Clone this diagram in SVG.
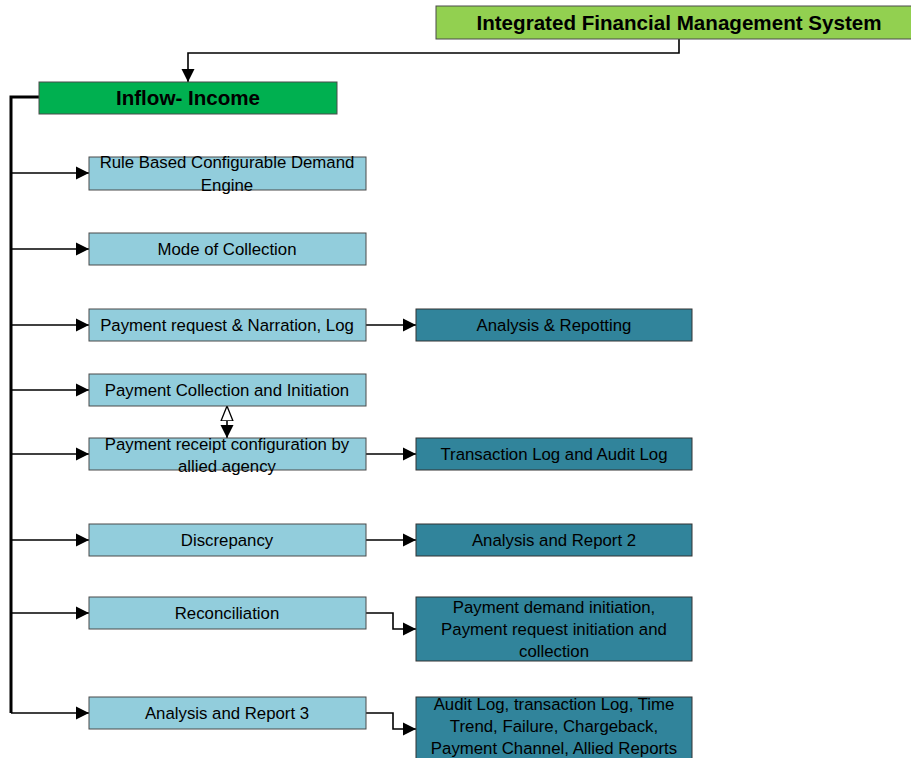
<svg xmlns="http://www.w3.org/2000/svg" width="911" height="758" viewBox="0 0 911 758">
<style>
.top{fill:#92D050;stroke:#4a4a4a;stroke-width:1}
.inflow{fill:#00B050;stroke:#4a4a4a;stroke-width:1}
.lt{fill:#92CDDC;stroke:#4a4a4a;stroke-width:1}
.dk{fill:#31849B;stroke:#333;stroke-width:1}
text{font-family:"Liberation Sans",Arial,sans-serif;font-size:16.8px;fill:#000;text-anchor:middle}
.b{font-weight:bold;font-size:20.6px}
.c{fill:none;stroke:#000;stroke-width:1.6}
.bus{fill:none;stroke:#000;stroke-width:3}
</style>
<defs>
<marker id="ah" markerWidth="14" markerHeight="14" refX="13" refY="7" orient="auto" markerUnits="userSpaceOnUse">
<path d="M0,0.5 L13,7 L0,13.5 Z" fill="#000"/>
</marker>
<marker id="ao" markerWidth="16" markerHeight="14" refX="15" refY="7" orient="auto" markerUnits="userSpaceOnUse">
<path d="M0,1 L15,7 L0,13 Z" fill="#fff" stroke="#000" stroke-width="1.3"/>
</marker>
</defs>
<g id="connectors">
<path class="c" d="M679,39 V53 H188 V82" marker-end="url(#ah)"/>
<path class="bus" d="M39,97 H11 V713"/>
<path class="c" d="M11,173 H89" marker-end="url(#ah)"/>
<path class="c" d="M11,249 H89" marker-end="url(#ah)"/>
<path class="c" d="M11,325 H89" marker-end="url(#ah)"/>
<path class="c" d="M11,390 H89" marker-end="url(#ah)"/>
<path class="c" d="M11,454 H89" marker-end="url(#ah)"/>
<path class="c" d="M11,540 H89" marker-end="url(#ah)"/>
<path class="c" d="M11,613 H89" marker-end="url(#ah)"/>
<path class="c" d="M11,713 H89" marker-end="url(#ah)"/>
<path class="c" d="M366,325 H416" marker-end="url(#ah)"/>
<path class="c" d="M366,454 H416" marker-end="url(#ah)"/>
<path class="c" d="M366,540 H416" marker-end="url(#ah)"/>
<path class="c" d="M366,613 H393 V629 H416" marker-end="url(#ah)"/>
<path class="c" d="M366,713 H393 V729 H416" marker-end="url(#ah)"/>
<path class="c" d="M227,422 V406" marker-end="url(#ao)"/>
<path class="c" d="M227,422 V438" marker-end="url(#ah)"/>
</g>
<g id="node-ifms"><rect class="top" x="436" y="6" width="480" height="33"/><text class="b" x="679" y="29.5">Integrated Financial Management System</text></g>
<g id="node-inflow"><rect class="inflow" x="39" y="82" width="298" height="32"/><text class="b" x="188" y="105">Inflow- Income</text></g>
<g id="node-rule"><rect class="lt" x="89" y="157" width="277" height="33"/><text x="227" y="168">Rule Based Configurable Demand</text><text x="227" y="191">Engine</text></g>
<g id="node-mode"><rect class="lt" x="89" y="233" width="277" height="32"/><text x="227" y="255">Mode of Collection</text></g>
<g id="node-request"><rect class="lt" x="89" y="309" width="277" height="32"/><text x="227" y="331">Payment request &amp; Narration, Log</text></g>
<g id="node-collection"><rect class="lt" x="89" y="374" width="277" height="32"/><text x="227" y="396">Payment Collection and Initiation</text></g>
<g id="node-receipt"><rect class="lt" x="89" y="438" width="277" height="32"/><text x="227" y="450">Payment receipt configuration by</text><text x="227" y="472">allied agency</text></g>
<g id="node-discrepancy"><rect class="lt" x="89" y="524" width="277" height="32"/><text x="227" y="546">Discrepancy</text></g>
<g id="node-reconciliation"><rect class="lt" x="89" y="597" width="277" height="32"/><text x="227" y="619">Reconciliation</text></g>
<g id="node-report3"><rect class="lt" x="89" y="697" width="277" height="32"/><text x="227" y="719">Analysis and Report 3</text></g>
<g id="node-repotting"><rect class="dk" x="416" y="309" width="276" height="32"/><text x="554" y="331">Analysis &amp; Repotting</text></g>
<g id="node-txlog"><rect class="dk" x="416" y="438" width="276" height="32"/><text x="554" y="460">Transaction Log and Audit Log</text></g>
<g id="node-report2"><rect class="dk" x="416" y="524" width="276" height="32"/><text x="554" y="546">Analysis and Report 2</text></g>
<g id="node-demand"><rect class="dk" x="416" y="597" width="276" height="64"/><text x="554" y="613">Payment demand initiation,</text><text x="554" y="635">Payment request initiation and</text><text x="554" y="657">collection</text></g>
<g id="node-audit"><rect class="dk" x="416" y="697" width="276" height="64"/><text x="554" y="710">Audit Log, transaction Log, Time</text><text x="554" y="732">Trend, Failure, Chargeback,</text><text x="554" y="754">Payment Channel, Allied Reports</text></g>
</svg>
